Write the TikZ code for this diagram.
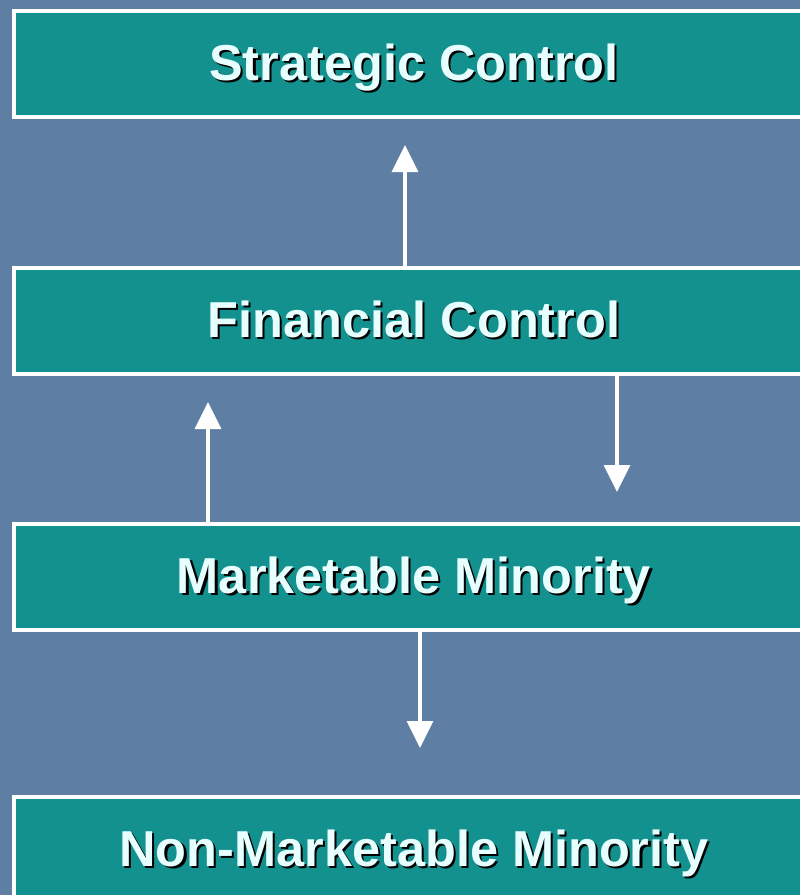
\documentclass[tikz,border=0pt]{standalone}
\usepackage{fontspec}
\setmainfont{Liberation Sans}
\usetikzlibrary{arrows.meta}
\definecolor{bgblue}{RGB}{94,126,164}
\definecolor{boxteal}{RGB}{18,145,143}
\definecolor{labelcyan}{RGB}{232,255,255}
% bold label with a dark drop shadow
\newcommand\shadowlabel[1]{\rlap{\kern2.2pt\raisebox{-2.2pt}{\color{black}#1}}#1}
\tikzset{
  level/.style={draw=white, line width=4pt, fill=boxteal, minimum width=800pt,
    minimum height=106pt, inner sep=0pt, text=labelcyan,
    text height=33pt, text depth=0pt,
    font=\fontsize{50.5}{58}\selectfont\bfseries},
  flow/.style={draw=white, line width=3.5pt, -{Triangle[width=26pt,length=27pt]}}
}
\begin{document}
\begin{tikzpicture}[x=1pt,y=-1pt]
  \fill[bgblue] (0,0) rectangle (800,895);
  \useasboundingbox (0,0) rectangle (800,895);
  \begin{scope}
    \clip (0,0) rectangle (800,895);
    \node[level, anchor=north west] (strat) at (12,9)   {\shadowlabel{Strategic Control}};
    \node[level, anchor=north west] (fin)   at (12,266) {\shadowlabel{Financial Control}};
    \node[level, anchor=north west] (mkt)   at (12,522) {\shadowlabel{Marketable Minority}};
    \node[level, anchor=north west] (nonmkt) at (12,795) {\shadowlabel{Non-Marketable Minority}};
  \end{scope}
  % arrow tips
  \coordinate (tipA) at (405,145);
  \coordinate (tipB) at (617,492);
  \coordinate (tipC) at (208,402);
  \coordinate (tipD) at (420,748);
  \draw[flow] (tipA |- fin.north) -- (tipA);
  \draw[flow] (tipB |- fin.south) -- (tipB);
  \draw[flow] (tipC |- mkt.north) -- (tipC);
  \draw[flow] (tipD |- mkt.south) -- (tipD);
\end{tikzpicture}
\end{document}
